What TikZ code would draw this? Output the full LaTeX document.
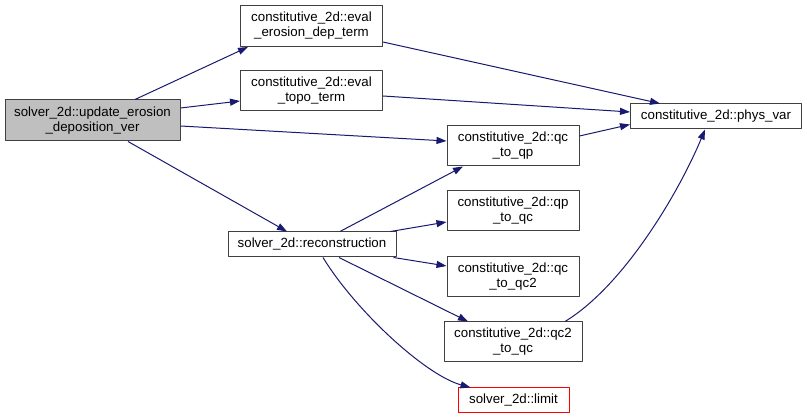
\documentclass[tikz,border=0pt]{standalone}
\usepackage{fontspec}
\setmainfont{Liberation Sans}
\usetikzlibrary{arrows.meta}
\definecolor{calledge}{RGB}{25,25,112}
\definecolor{callfill}{RGB}{191,191,191}
\definecolor{callborder}{RGB}{64,64,64}
\definecolor{callred}{RGB}{255,0,0}

\begin{document}
\begin{tikzpicture}[x=1pt,y=-1pt,>={Triangle[length=10pt,width=7pt]},line join=round,
 fn/.style={draw=callborder,line width=1pt,fill=white,align=center,inner sep=0pt,
  font=\fontsize{13.3}{15}\selectfont},
 call/.style={->,calledge,line width=1pt}]
 \useasboundingbox (0,0) rectangle (807,419);
 % Caller.
 \node[fn,fill=callfill,minimum width=175pt,minimum height=41pt] (upd) at (92.5,120.5)
  {solver\_2d::update\_erosion\\\_deposition\_ver};
 % Direct callees.
 \node[fn,minimum width=142pt,minimum height=41pt] (ero) at (311.5,26)
  {constitutive\_2d::eval\\\_erosion\_dep\_term};
 \node[fn,minimum width=142pt,minimum height=40pt] (topo) at (311.5,91)
  {constitutive\_2d::eval\\\_topo\_term};
 \node[fn,minimum width=168pt,minimum height=25pt] (rec) at (312,244.5)
  {solver\_2d::reconstruction};
 \node[fn,minimum width=132pt,minimum height=40pt] (qcqp) at (513,146)
  {constitutive\_2d::qc\\\_to\_qp};
 % Called from reconstruction.
 \node[fn,minimum width=132pt,minimum height=40pt] (qpqc) at (513,211)
  {constitutive\_2d::qp\\\_to\_qc};
 \node[fn,minimum width=132pt,minimum height=40pt] (qcqc2) at (513,277)
  {constitutive\_2d::qc\\\_to\_qc2};
 \node[fn,minimum width=138pt,minimum height=40pt] (qc2qc) at (513,342)
  {constitutive\_2d::qc2\\\_to\_qc};
 \node[fn,draw=callred,minimum width=111pt,minimum height=25pt] (lim) at (513.5,400.5)
  {solver\_2d::limit};
 \node[fn,minimum width=171pt,minimum height=25pt] (phys) at (716,116.5)
  {constitutive\_2d::phys\_var};
 % Calls.
 \draw[call] ([xshift=42.5pt]upd.north) -- ([xshift=-63.5pt]ero.south);
 \draw[call] ([yshift=12.5pt]upd.east) -- ([yshift=-10pt]topo.west);
 \draw[call] ([yshift=-5.5pt]upd.east) -- ([yshift=5pt]qcqp.west);
 \draw[call] ([xshift=35.5pt]upd.south) -- ([xshift=-25pt]rec.north);
 \draw[call] ([yshift=-16pt]ero.east) -- ([xshift=-56pt]phys.north);
 \draw[call] ([yshift=-5pt]topo.east) -- ([yshift=4.5pt]phys.west);
 \draw[call] ([yshift=10pt]qcqp.east) -- ([yshift=-8pt]phys.west);
 \draw[call] ([xshift=28pt]rec.north) -- ([xshift=-50pt]qcqp.south);
 \draw[call] ([xshift=-6pt]rec.north east) -- ([yshift=-11pt]qpqc.west);
 \draw[call] ([xshift=-3pt]rec.south east) -- ([yshift=11pt]qcqc2.west);
 \draw[call] ([xshift=27pt]rec.south) -- ([xshift=-45pt]qc2qc.north);
 \draw[call] ([xshift=11pt]rec.south)
  .. controls (355,310) and (425,375) .. ([xshift=-43pt]lim.north);
 \draw[call] ([xshift=52pt]qc2qc.north)
  .. controls (625,285) and (680,190) .. ([xshift=-11pt]phys.south);
\end{tikzpicture}
\end{document}
